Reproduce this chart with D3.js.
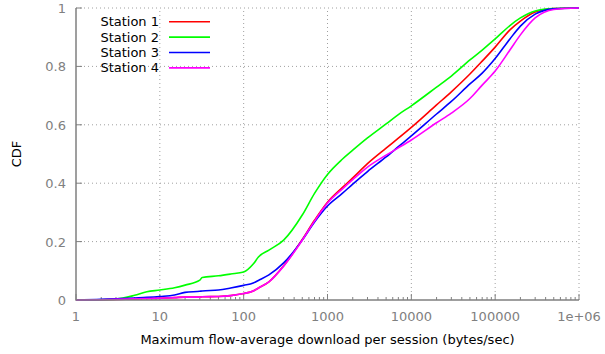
<!DOCTYPE html>
<html>
<head>
<meta charset="utf-8">
<script src="https://cdn.jsdelivr.net/npm/d3@7"></script>
<style>
  body { margin: 0; background: #fff; }
  svg { display: block; font-family: "DejaVu Sans", sans-serif; }
</style>
</head>
<body>
<div id="chart"></div>
<script>
// download rate (bytes/sec) where the CDF was sampled
const rates = [1, 2, 3, 5, 7, 10, 15, 20, 30, 32, 50, 70, 100, 130, 150, 200, 300, 500, 700,
  1000, 1500, 2000, 3000, 5000, 7000, 10000, 20000, 30000, 50000, 70000, 100000,
  150000, 200000, 300000, 500000, 1000000];

const station1 = [0, 0.001, 0.002, 0.004, 0.005, 0.006, 0.008, 0.010, 0.010, 0.011, 0.012, 0.015, 0.022,
  0.031, 0.041, 0.062, 0.117, 0.207, 0.273, 0.335, 0.385, 0.418, 0.467, 0.52, 0.554, 0.591, 0.668,
  0.713, 0.774, 0.818, 0.866, 0.925, 0.955, 0.986, 0.998, 1];
const station2 = [0, 0.001, 0.003, 0.016, 0.028, 0.034, 0.042, 0.051, 0.068, 0.077, 0.083, 0.089, 0.096,
  0.123, 0.147, 0.171, 0.205, 0.291, 0.365, 0.43, 0.482, 0.513, 0.555, 0.603, 0.635, 0.665, 0.729,
  0.767, 0.822, 0.856, 0.894, 0.94, 0.966, 0.99, 0.998, 1];
const station3 = [0, 0.002, 0.004, 0.007, 0.009, 0.012, 0.017, 0.026, 0.030, 0.031, 0.034, 0.041, 0.05,
  0.058, 0.067, 0.086, 0.127, 0.205, 0.267, 0.322, 0.365, 0.397, 0.44, 0.49, 0.525, 0.562, 0.637,
  0.68, 0.74, 0.777, 0.827, 0.894, 0.938, 0.979, 0.997, 1];
const station4 = [0, 0.001, 0.002, 0.004, 0.005, 0.006, 0.008, 0.010, 0.010, 0.011, 0.012, 0.015, 0.022,
  0.031, 0.041, 0.062, 0.116, 0.205, 0.27, 0.332, 0.38, 0.412, 0.455, 0.496, 0.521, 0.548, 0.607,
  0.64, 0.69, 0.736, 0.784, 0.856, 0.908, 0.966, 0.995, 1];

const seriesNames = ['Station 1', 'Station 2', 'Station 3', 'Station 4'];
const seriesColors = ['#ff0000', '#00ff00', '#0000ff', '#ff00ff'];
const seriesValues = [station1, station2, station3, station4];

const xTicks = [1, 10, 100, 1000, 10000, 100000, 1000000];
const xTickLabels = ['1', '10', '100', '1000', '10000', '100000', '1e+06'];
const yTicks = [0, 0.2, 0.4, 0.6, 0.8, 1];
const yTickLabels = ['0', '0.2', '0.4', '0.6', '0.8', '1'];

const W = 605, H = 354;
const margin = { top: 8, right: 26, bottom: 54, left: 76 };

const svg = d3.select('#chart').append('svg')
  .attr('width', W).attr('height', H);

const x = d3.scaleLog().domain([1, 1e6]).range([margin.left, W - margin.right]);
const y = d3.scaleLinear().domain([0, 1]).range([H - margin.bottom, margin.top]);

const gridColor = '#a0a0a0';
const axisColor = '#808080';

// grid
svg.append('g').selectAll('line.gx')
  .data(xTicks.slice(1)).enter().append('line')
  .attr('x1', d => x(d)).attr('x2', d => x(d))
  .attr('y1', y(0)).attr('y2', y(1))
  .attr('stroke', gridColor).attr('stroke-width', 1).attr('stroke-dasharray', '1,3');
svg.append('g').selectAll('line.gy')
  .data(yTicks.slice(1)).enter().append('line')
  .attr('x1', x(1)).attr('x2', x(1e6))
  .attr('y1', d => y(d)).attr('y2', d => y(d))
  .attr('stroke', gridColor).attr('stroke-width', 1).attr('stroke-dasharray', '1,3');

// minor ticks on log axis
var minor = [];
for (var e = 0; e < 6; ++e) {
  for (var m = 2; m <= 9; ++m) minor.push(m * Math.pow(10, e));
}
svg.append('g').selectAll('line')
  .data(minor).enter().append('line')
  .attr('x1', d => x(d)).attr('x2', d => x(d))
  .attr('y1', y(0)).attr('y2', y(0) - 3)
  .attr('stroke', axisColor).attr('stroke-width', 1);
svg.append('g').selectAll('line')
  .data(xTicks).enter().append('line')
  .attr('x1', d => x(d)).attr('x2', d => x(d))
  .attr('y1', y(0)).attr('y2', y(0) - 6)
  .attr('stroke', axisColor).attr('stroke-width', 1);
svg.append('g').selectAll('line')
  .data(yTicks).enter().append('line')
  .attr('x1', x(1)).attr('x2', x(1) + 6)
  .attr('y1', d => y(d)).attr('y2', d => y(d))
  .attr('stroke', axisColor).attr('stroke-width', 1);

// curves (station 4 drawn last, on top)
const line = d3.line()
  .x((d, i) => x(rates[i]))
  .y(d => y(d))
  .curve(d3.curveMonotoneX);
svg.append('g').selectAll('path')
  .data(seriesValues).enter().append('path')
  .attr('d', d => line(d))
  .attr('fill', 'none')
  .attr('stroke', (d, i) => seriesColors[i])
  .attr('stroke-width', 1.6);

// border (left + bottom)
svg.append('path')
  .attr('d', 'M' + x(1) + ',' + y(1) + 'V' + y(0) + 'H' + x(1e6))
  .attr('fill', 'none').attr('stroke', axisColor).attr('stroke-width', 1.5);

// tick labels
svg.append('g').selectAll('text')
  .data(xTicks).enter().append('text')
  .attr('x', d => x(d)).attr('y', y(0) + 21)
  .attr('text-anchor', 'middle')
  .attr('font-size', 13).attr('fill', axisColor)
  .text((d, i) => xTickLabels[i]);
svg.append('g').selectAll('text')
  .data(yTicks).enter().append('text')
  .attr('x', x(1) - 10).attr('y', d => y(d) + 5)
  .attr('text-anchor', 'end')
  .attr('font-size', 13).attr('fill', axisColor)
  .text((d, i) => yTickLabels[i]);

// axis titles
svg.append('text')
  .attr('x', (x(1) + x(1e6)) / 2).attr('y', 344)
  .attr('text-anchor', 'middle').attr('font-size', 13).attr('fill', '#000')
  .text('Maximum flow-average download per session (bytes/sec)');
svg.append('text')
  .attr('transform', 'translate(21,' + ((y(0) + y(1)) / 2) + ') rotate(-90)')
  .attr('text-anchor', 'middle').attr('font-size', 13).attr('fill', '#000')
  .text('CDF');

// legend
const legend = svg.append('g').selectAll('g')
  .data(seriesNames).enter().append('g')
  .attr('transform', (d, i) => 'translate(0,' + (21.7 + i * 15.4) + ')');
legend.append('text')
  .attr('x', 159).attr('y', 4.5)
  .attr('text-anchor', 'end').attr('font-size', 13).attr('fill', '#000')
  .text(d => d);
legend.append('line')
  .attr('x1', 169).attr('x2', 210)
  .attr('y1', 0).attr('y2', 0)
  .attr('stroke', (d, i) => seriesColors[i]).attr('stroke-width', 1.6);
</script>
</body>
</html>
